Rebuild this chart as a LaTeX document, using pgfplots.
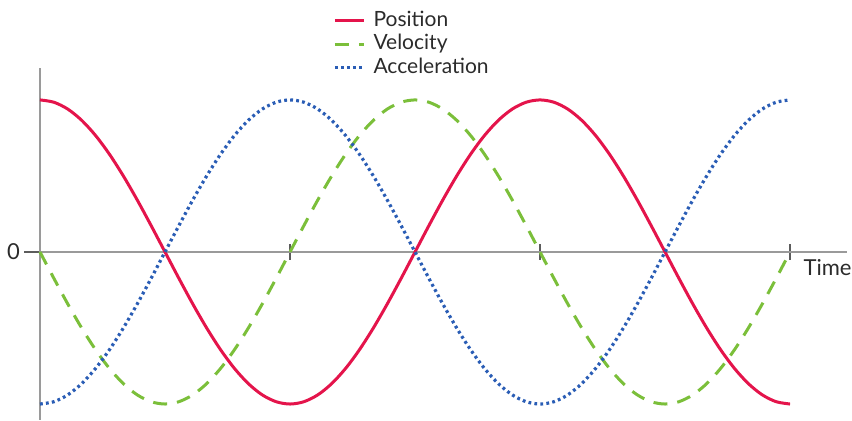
\documentclass[border=0pt]{standalone}
\usepackage{fontspec}
\setmainfont{Lato}
\usepackage{pgfplots}
\usepackage{pgfplotstable}
\pgfplotsset{compat=1.18}

\definecolor{posred}{HTML}{E4144B}
\definecolor{velgreen}{HTML}{7BBF3A}
\definecolor{accblue}{HTML}{2A5DB5}
\definecolor{axisgray}{HTML}{9A9A9A}
\definecolor{txt}{HTML}{2B2B2B}

% t in degrees; pos = cos t, vel = -sin t, acc = -cos t
\pgfplotstableread{
t pos vel acc
0 1 0 -1
10 0.9848 -0.1736 -0.9848
20 0.9397 -0.3420 -0.9397
30 0.8660 -0.5 -0.8660
40 0.7660 -0.6428 -0.7660
50 0.6428 -0.7660 -0.6428
60 0.5 -0.8660 -0.5
70 0.3420 -0.9397 -0.3420
80 0.1736 -0.9848 -0.1736
90 0 -1 0
100 -0.1736 -0.9848 0.1736
110 -0.3420 -0.9397 0.3420
120 -0.5 -0.8660 0.5
130 -0.6428 -0.7660 0.6428
140 -0.7660 -0.6428 0.7660
150 -0.8660 -0.5 0.8660
160 -0.9397 -0.3420 0.9397
170 -0.9848 -0.1736 0.9848
180 -1 0 1
190 -0.9848 0.1736 0.9848
200 -0.9397 0.3420 0.9397
210 -0.8660 0.5 0.8660
220 -0.7660 0.6428 0.7660
230 -0.6428 0.7660 0.6428
240 -0.5 0.8660 0.5
250 -0.3420 0.9397 0.3420
260 -0.1736 0.9848 0.1736
270 0 1 0
280 0.1736 0.9848 -0.1736
290 0.3420 0.9397 -0.3420
300 0.5 0.8660 -0.5
310 0.6428 0.7660 -0.6428
320 0.7660 0.6428 -0.7660
330 0.8660 0.5 -0.8660
340 0.9397 0.3420 -0.9397
350 0.9848 0.1736 -0.9848
360 1 0 -1
370 0.9848 -0.1736 -0.9848
380 0.9397 -0.3420 -0.9397
390 0.8660 -0.5 -0.8660
400 0.7660 -0.6428 -0.7660
410 0.6428 -0.7660 -0.6428
420 0.5 -0.8660 -0.5
430 0.3420 -0.9397 -0.3420
440 0.1736 -0.9848 -0.1736
450 0 -1 0
460 -0.1736 -0.9848 0.1736
470 -0.3420 -0.9397 0.3420
480 -0.5 -0.8660 0.5
490 -0.6428 -0.7660 0.6428
500 -0.7660 -0.6428 0.7660
510 -0.8660 -0.5 0.8660
520 -0.9397 -0.3420 0.9397
530 -0.9848 -0.1736 0.9848
540 -1 0 1
}\motion

\begin{document}
\begin{tikzpicture}
\begin{axis}[
    scale only axis,
    width=403.5pt, height=176pt,
    at={(20pt,0.5pt)}, anchor=south west,
    xmin=0, xmax=581, ymin=-1.105, ymax=1.21,
    axis x line=middle, axis y line=left,
    axis line style={axisgray, line width=0.6pt, -},
    xtick={180,360,540}, xticklabels={},
    ytick={0}, yticklabels={0},
    xtick align=center, ytick align=outside,
    major tick length=8pt,
    tick style={color=axisgray!60!black, line width=0.6pt},
    tick label style={font=\fontsize{11}{13}\selectfont, text=txt},
    yticklabel style={xshift=1.5pt},
    /pgf/number format/assume math mode=true,
    clip=false,
    legend cell align=left,
    legend style={draw=none, fill=none, at={(axis description cs:0.363,1.174)},
        anchor=north west, inner sep=0pt, row sep=-1.75pt,
        font=\fontsize{10.5}{12}\selectfont, text=txt,
        nodes={inner sep=1.5pt, text height=8pt, text depth=2.5pt}},
    legend image code/.code={\draw[#1] (0pt,0pt) -- (14.5pt,0pt); \path (17pt,0pt);},
]
\addplot[posred, line width=1.5pt, smooth] table[x=t, y=pos] {\motion};
\addlegendentry{Position}
\addplot[velgreen, line width=1.5pt, smooth, dash pattern=on 7pt off 5pt] table[x=t, y=vel] {\motion};
\addlegendentry{Velocity}
\addplot[accblue, line width=1.6pt, smooth, dash pattern=on 1.4pt off 1.6pt] table[x=t, y=acc] {\motion};
\addlegendentry{Acceleration}
\node[font=\fontsize{11}{13}\selectfont, text=txt] at (axis cs:567,-0.105) {Time};
\end{axis}
\pgfresetboundingbox
\path (0,0) rectangle (426pt,210.5pt);
\end{tikzpicture}
\end{document}
